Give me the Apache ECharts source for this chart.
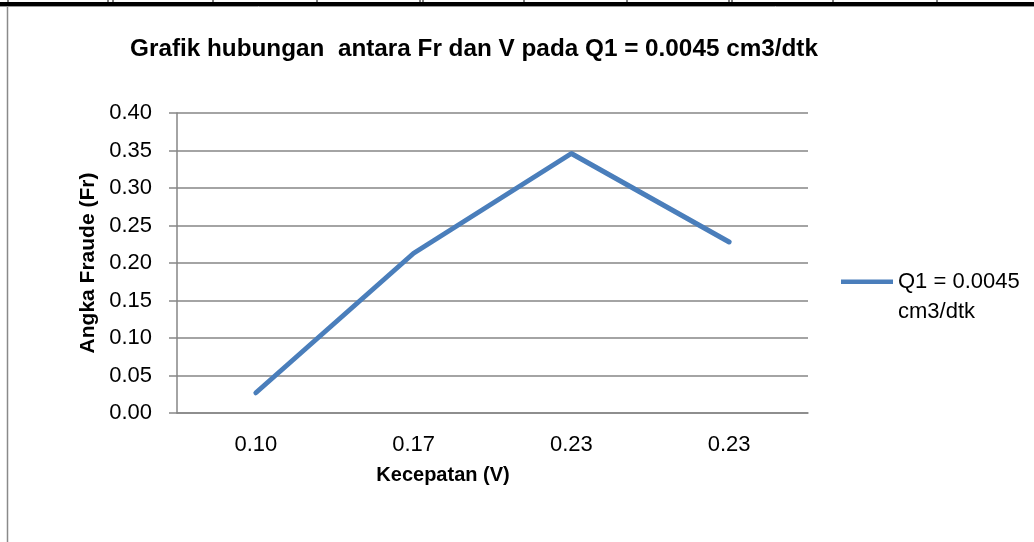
<!DOCTYPE html>
<html>
<head>
<meta charset="utf-8">
<script src="https://cdn.jsdelivr.net/npm/echarts@6/dist/echarts.min.js"></script>
<style>
  html, body { margin: 0; padding: 0; background: #fff; }
  #chart { width: 1034px; height: 542px; }
</style>
</head>
<body>
<div id="chart"></div>
<script>
const categories = ['0.10', '0.17', '0.23', '0.23']
const frValues = [0.027, 0.213, 0.346, 0.228]
const seriesName = 'Q1 = 0.0045 cm3/dtk'
const yTicks = { min: 0, max: 0.4, interval: 0.05 }

// garis tabel di atas (sisa dari dokumen)
const cellLines = [8, 108, 113, 213, 317, 420, 423, 524, 627, 729, 732, 833, 937]

const font = 'Liberation Sans'
const gray = '#868686'
const blue = '#4a7ebb'

const chart = echarts.init(document.getElementById('chart'))

const decor = [
  { type: 'rect', shape: { x: 0, y: 2, width: 1034, height: 4 }, style: { fill: '#000' } },
  { type: 'line', shape: { x1: 0, y1: 6.5, x2: 1034, y2: 6.5 }, style: { stroke: '#999', lineWidth: 1 } },
  { type: 'line', shape: { x1: 7.5, y1: 7, x2: 7.5, y2: 542 }, style: { stroke: '#8a8a8a', lineWidth: 1.5 } }
]
cellLines.forEach(x => {
  decor.push({ type: 'line', shape: { x1: x, y1: 0, x2: x, y2: 3 }, style: { stroke: '#000', lineWidth: 1 } })
})

const option = {
  animation: false,
  backgroundColor: '#fff',
  textStyle: { fontFamily: font },
  title: [
    {
      text: 'Grafik hubungan  antara Fr dan V pada Q1 = 0.0045 cm3/dtk',
      left: 474,
      top: 37,
      textAlign: 'center',
      padding: 0,
      textStyle: { fontFamily: font, fontSize: 24.3, fontWeight: 'bold', color: '#000' }
    },
    {
      text: 'Kecepatan (V)',
      left: 443,
      top: 465,
      textAlign: 'center',
      padding: 0,
      textStyle: { fontFamily: font, fontSize: 20, fontWeight: 'bold', color: '#000' }
    }
  ],
  graphic: decor,
  legend: {
    left: 841,
    top: 267,
    padding: 0,
    orient: 'vertical',
    itemWidth: 52,
    itemHeight: 35,
    // garis di bagian atas kotak ikon supaya sejajar dengan baris pertama teks
    icon: 'path://M0,0 L52,0 L52,4.5 L0,4.5 Z M0,35 L0.01,35 L0,35 Z',
    formatter: () => 'Q1 = 0.0045\ncm3/dtk',
    textStyle: { fontFamily: font, fontSize: 22, color: '#000', lineHeight: 30 }
  },
  grid: { left: 177, right: 226, top: 113, bottom: 129 },
  xAxis: {
    type: 'category',
    data: categories,
    boundaryGap: true,
    axisTick: { show: false },
    axisLine: { lineStyle: { color: gray, width: 1.5 } },
    axisLabel: { color: '#000', fontSize: 22, fontFamily: font, margin: 21 },
    splitLine: { show: false }
  },
  yAxis: {
    type: 'value',
    min: yTicks.min,
    max: yTicks.max,
    interval: yTicks.interval,
    name: 'Angka Fraude (Fr)',
    nameLocation: 'middle',
    nameGap: 76,
    nameTextStyle: { fontFamily: font, fontSize: 21, fontWeight: 'bold', color: '#000' },
    axisLine: { show: true, lineStyle: { color: gray, width: 1.5 } },
    axisTick: { show: true, length: 8, lineStyle: { color: gray, width: 1.5 } },
    axisLabel: { color: '#000', fontSize: 22, fontFamily: font, margin: 25, formatter: v => v.toFixed(2) },
    splitLine: { lineStyle: { color: gray, width: 1.5 } }
  },
  series: [
    {
      name: seriesName,
      type: 'line',
      data: frValues,
      symbol: 'none',
      color: blue,
      itemStyle: { color: blue },
      lineStyle: { color: blue, width: 5, cap: 'round', join: 'round' }
    }
  ]
}

chart.setOption(option)
</script>
</body>
</html>
